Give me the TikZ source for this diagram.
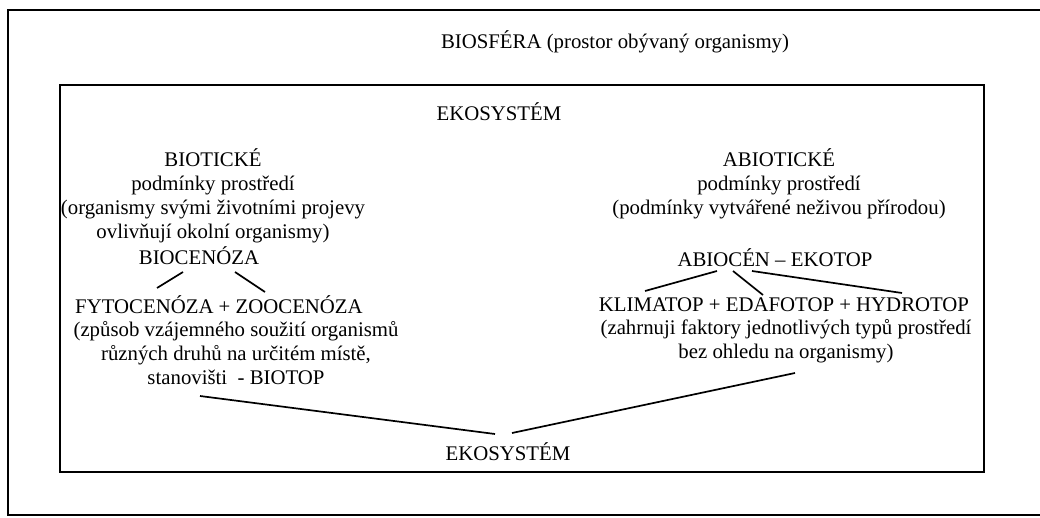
\documentclass[tikz,border=0pt]{standalone}
\usepackage{fontspec}
\setmainfont{Liberation Serif}
\usepackage{tikz}
\usetikzlibrary{positioning}
\newcommand{\txtsize}{\fontsize{20.8}{24}\selectfont}

\begin{document}
\begin{tikzpicture}[x=1pt,y=-1pt,line width=1.7pt,
		every node/.style={font=\txtsize,align=center,inner sep=0pt}]
			\useasboundingbox (0,0) rectangle (1040,518);
			\fill[white] (0,0) rectangle (1040,518);
			\draw (1040,10) -- (8,10) -- (8,515) -- (1040,515);
			\node[draw,minimum width=924pt,minimum height=387pt] (ekobox) at (522,278.5) {};
			\node (biosfera) at (615,42) {BIOSFÉRA (prostor obývaný organismy)};
			\node (ekosys) at (499,112) {EKOSYSTÉM};
			\node (biot) at (213,196) {BIOTICKÉ\\podmínky prostředí\\(organismy svými životními projevy\\ovlivňují okolní organismy)};
			\node (biocen) at (199,256) {BIOCENÓZA};
			\node (fyto) at (219,305) {FYTOCENÓZA + ZOOCENÓZA};
			\node (souziti) at (236,353) {(způsob vzájemného soužití organismů\\různých druhů na určitém místě,\\stanovišti \ - BIOTOP};
			\node (abiot) at (779,184) {ABIOTICKÉ\\podmínky prostředí\\(podmínky vytvářené neživou přírodou)};
			\node (abiocen) at (775,258) {ABIOCÉN – EKOTOP};
			\node (klima) at (784,305) {KLIMATOP + EDAFOTOP + HYDROTOP};
			\node (faktory) at (786,341) {(zahrnuji faktory jednotlivých typů prostředí\\bez ohledu na organismy)};
			\node (ekosysdole) at (508,452) {EKOSYSTÉM};
			\path
			([xshift=-16pt,yshift=-16pt]biocen.center) edge ([xshift=-62pt,yshift=17pt]fyto.center)
			([xshift=36pt,yshift=-16pt]biocen.center) edge ([xshift=46pt,yshift=13pt]fyto.center)
			([xshift=-58pt,yshift=-13pt]abiocen.center) edge ([xshift=-139pt,yshift=14pt]klima.center)
			([xshift=-42pt,yshift=-13pt]abiocen.center) edge ([xshift=-21pt,yshift=10pt]klima.center)
			([xshift=-23pt,yshift=-13pt]abiocen.center) edge ([xshift=118pt,yshift=12pt]klima.center)
			([xshift=-36pt,yshift=-43pt]souziti.center) edge ([xshift=-13pt,yshift=18pt]ekosysdole.center)
			([xshift=9pt,yshift=-32pt]faktory.center) edge ([xshift=4pt,yshift=19pt]ekosysdole.center);
		\end{tikzpicture}
\end{document}
